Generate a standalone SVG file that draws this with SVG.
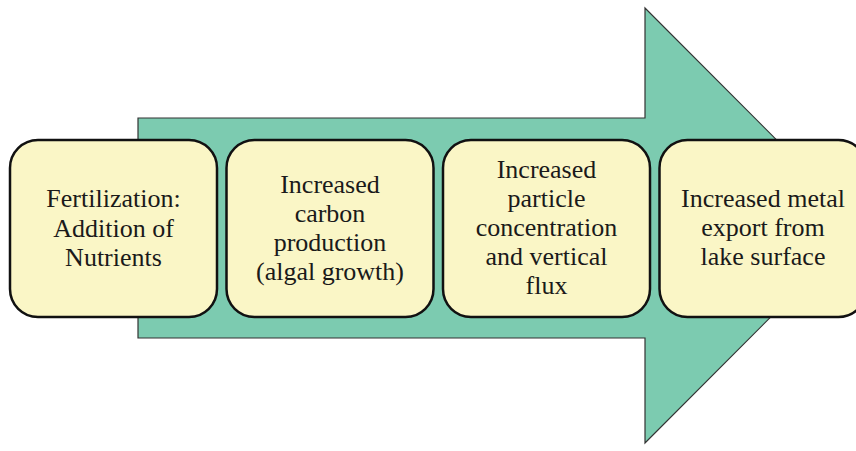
<svg xmlns="http://www.w3.org/2000/svg" width="856" height="451" viewBox="0 0 856 451">
<style>
.box{fill:#FAF6C6;stroke:#111;stroke-width:2.5}
.t{font-family:"Liberation Serif","Times New Roman",serif;font-size:26px;fill:#1a1a1a;text-anchor:middle}
</style>
<rect width="856" height="451" fill="#fff"/>
<g id="connectors">
<polygon points="138,118 645,118 645,8 862,225.5 645,443 645,338 138,338" fill="#7CCBB0" stroke="#333" stroke-width="1.2"/>
</g>
<g id="n1">
<rect class="box" x="10" y="140" width="207" height="177" rx="28"/>
<text class="t" x="113.5" y="207">Fertilization:</text>
<text class="t" x="113.5" y="236.5">Addition of</text>
<text class="t" x="113.5" y="266">Nutrients</text>
</g>
<g id="n2">
<rect class="box" x="226.5" y="140" width="207" height="177" rx="28"/>
<text class="t" x="330" y="193">Increased</text>
<text class="t" x="330" y="222">carbon</text>
<text class="t" x="330" y="251">production</text>
<text class="t" x="330" y="280">(algal growth)</text>
</g>
<g id="n3">
<rect class="box" x="443" y="140" width="207" height="177" rx="28"/>
<text class="t" x="546.5" y="178">Increased</text>
<text class="t" x="546.5" y="207">particle</text>
<text class="t" x="546.5" y="236">concentration</text>
<text class="t" x="546.5" y="265">and vertical</text>
<text class="t" x="546.5" y="294">flux</text>
</g>
<g id="n4">
<rect class="box" x="659.5" y="140" width="207" height="177" rx="28"/>
<text class="t" x="763" y="207">Increased metal</text>
<text class="t" x="763" y="236">export from</text>
<text class="t" x="763" y="265">lake surface</text>
</g>
</svg>
